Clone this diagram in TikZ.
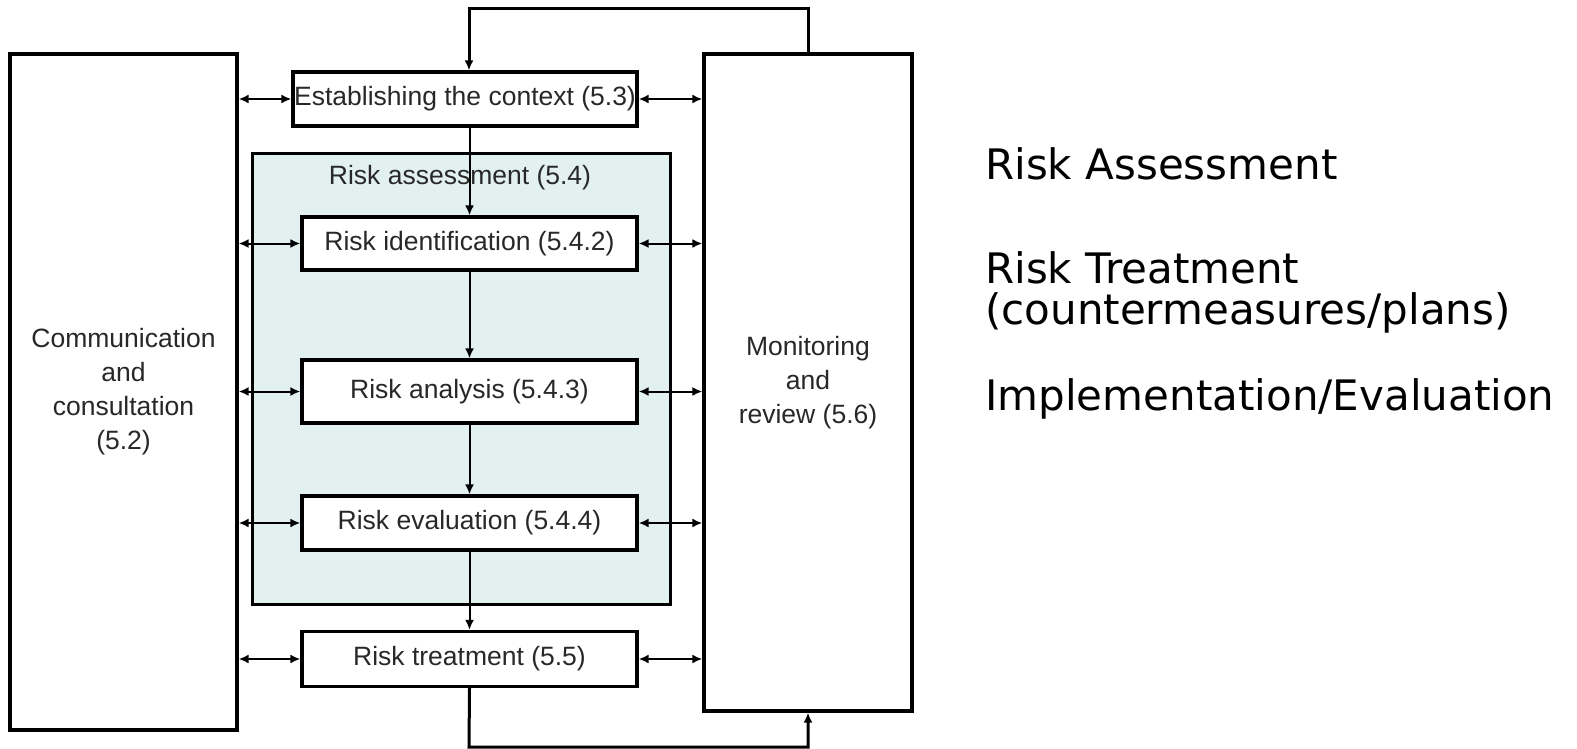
\documentclass[tikz,border=0pt]{standalone}
\usepackage{fontspec}
\setmainfont{Liberation Sans}
\newfontfamily\notefont{DejaVu Sans}
\usetikzlibrary{arrows.meta}
\definecolor{assessfill}{RGB}{226,241,239}
\definecolor{boxtext}{RGB}{40,40,40}
\begin{document}
\begin{tikzpicture}[x=1pt,y=-1pt,
  box/.style={draw, line width=3.2pt, fill=white, inner sep=0pt, text=boxtext,
    font=\fontsize{26.5}{34}\selectfont, align=center},
  link/.style={line width=2pt, -{Latex[length=10pt,width=9pt]}},
  twoway/.style={line width=2pt, {Latex[length=10pt,width=9pt]}-{Latex[length=10pt,width=9pt]}},
  note/.style={anchor=base west, inner sep=0pt, font=\notefont\fontsize{42}{50}\selectfont}]
\useasboundingbox (0,0) rectangle (1577,749);
% side boxes
\node[box, minimum width=227pt, minimum height=676pt] (comm) at (123.5,392) {Communication\\and\\consultation\\(5.2)};
\node[box, minimum width=208pt, minimum height=657pt] (mon) at (808,382.5) {Monitoring\\and\\review (5.6)};
% risk assessment area
\node[draw, line width=3pt, fill=assessfill, minimum width=418pt, minimum height=450pt] (area) at (461,379) {};
\node[text=boxtext, font=\fontsize{26.5}{34}\selectfont] (arealbl) at (460,178) {Risk assessment (5.4)};
% process steps
\node[box, minimum width=344pt, minimum height=54pt] (ctx) at (465,99) {Establishing the context (5.3)};
\node[box, minimum width=335pt, minimum height=53pt] (ident) at (469.5,243.5) {Risk identification (5.4.2)};
\node[box, minimum width=335pt, minimum height=63pt] (anal) at (469.5,391.5) {Risk analysis (5.4.3)};
\node[box, minimum width=335pt, minimum height=54pt] (eval) at (469.5,523) {Risk evaluation (5.4.4)};
\node[box, minimum width=335pt, minimum height=55pt] (treat) at (469.5,659) {Risk treatment (5.5)};
% main flow
\draw[link] (ident.north |- ctx.south) -- (ident.north);
\draw[link] (ident) -- (anal);
\draw[link] (anal) -- (eval);
\draw[link] (eval) -- (treat);
% feedback loops
\coordinate (fbtop) at (469,9);
\coordinate (fbbot) at (469,747);
\draw[link, line width=3pt] (mon.north) |- (fbtop) -- (fbtop |- ctx.north);
\draw[link, line width=3pt] (treat.south) -- (fbbot) -| (mon.south);
% links to the side boxes
\foreach \s in {ctx,ident,anal,eval,treat}{
  \draw[twoway] (comm.east |- \s) -- (\s.west);
  \draw[twoway] (\s.east) -- (mon.west |- \s);
}
% notes on the right
\node[note] (n1) at (985,179) {Risk Assessment};
\node[note] (n2) at (985,283) {Risk Treatment};
\node[note] (n3) at (985,324) {(countermeasures/plans)};
\node[note] (n4) at (985,410) {Implementation/Evaluation};
\end{tikzpicture}
\end{document}
